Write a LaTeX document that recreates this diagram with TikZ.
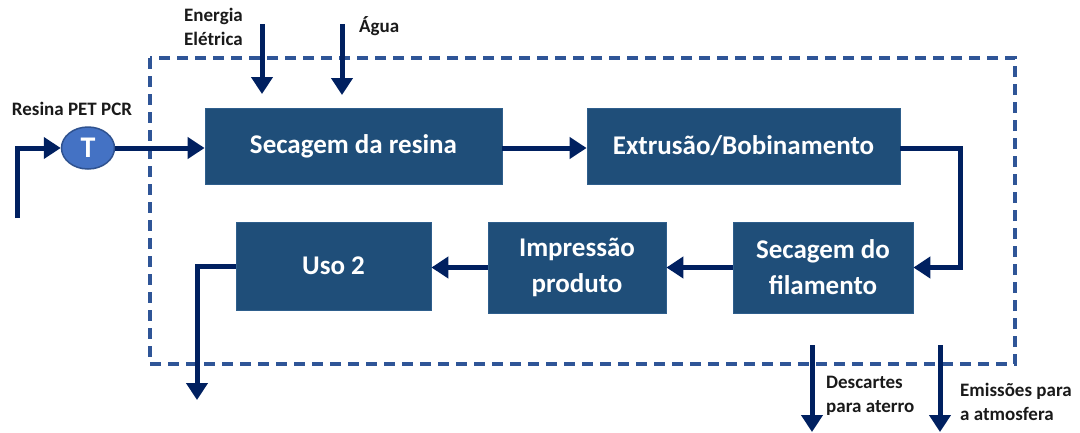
\documentclass[tikz,border=0pt]{standalone}
\usepackage{fontspec}
\setmainfont{Carlito}
\usetikzlibrary{arrows.meta,shapes.geometric}
\definecolor{boxblue}{HTML}{1F4E79}
\definecolor{boxedge}{HTML}{2E5E8C}
\definecolor{flow}{HTML}{002060}
\definecolor{bound}{HTML}{2F5597}
\definecolor{tankfill}{HTML}{4472C4}
\definecolor{tankedge}{HTML}{2F528F}
\definecolor{labeltext}{HTML}{1A1A1A}
\tikzset{
  procbox/.style={draw=boxedge, line width=0.8pt, fill=boxblue, text=white,
    font=\bfseries\fontsize{27}{36}\selectfont, align=center, inner sep=0pt},
  flowline/.style={draw=flow, line width=5pt,
    -{Triangle[length=17pt,width=21pt]}},
  lbl/.style={font=\bfseries\fontsize{19}{24}\selectfont, text=labeltext, inner sep=0pt, align=left},
}
\begin{document}
\begin{tikzpicture}[x=1pt,y=-1pt]
\useasboundingbox (0,0) rectangle (1080,432);

% system boundary
\draw[bound, line width=4pt, dash pattern=on 11pt off 7pt] (150,58) rectangle (1015,364);

% process steps
\node[procbox, minimum width=297pt, minimum height=76pt] (sec) at (353.5,146) {Secagem da resina};
\node[procbox, minimum width=313pt, minimum height=76pt] (ext) at (743.5,146) {Extrusão/Bobinamento};
\node[procbox, minimum width=180pt, minimum height=91pt] (fil) at (823,267.5) {Secagem do\\filamento};
\node[procbox, minimum width=178pt, minimum height=91pt] (imp) at (577,267.5) {Impressão\\produto};
\node[procbox, minimum width=195pt, minimum height=88pt] (uso) at (333.5,266) {Uso 2};

% resin tank
\node[ellipse, draw=tankedge, line width=1.5pt, fill=tankfill, minimum width=53pt, minimum height=42pt,
      inner sep=0pt, text=white, font=\bfseries\fontsize{30}{30}\selectfont] (tank) at (88,148) {T};
\node[lbl] (resina) at (72,109) {Resina PET PCR};
\coordinate (feed) at (17,218);

% inputs from above
\node[lbl, anchor=north west] (energia) at (184,8) {Energia\\Elétrica};
\node[lbl, anchor=west] (agua) at (359,26) {Água};
\coordinate (eTop) at (262,24);
\coordinate (eEnd) at (262,94);
\coordinate (aTop) at (342,24);
\coordinate (aEnd) at (342,95);

% outputs below
\coordinate (dTop) at (812,345);
\coordinate (dEnd) at (812,432);
\coordinate (mTop) at (940,345);
\coordinate (mEnd) at (940,432);
\coordinate (uEnd) at (197,400);
\node[lbl, anchor=north west] (desc) at (826,376) {Descartes\\para aterro};
\node[lbl, anchor=north west] (emis) at (960,383) {Emissões para\\a atmosfera};

% flows
\draw[flowline] (feed) |- (tank.west);
\draw[flowline] (tank.east) -- (sec.west |- tank.east);
\draw[flowline] (eTop) -- (eEnd);
\draw[flowline] (aTop) -- (aEnd);
\draw[flowline] (sec.east |- tank.east) -- (ext.west |- tank.east);
\draw[flowline] (ext.east |- tank.east) -- ++(60,0) |- (fil.east);
\draw[flowline] (fil.west) -- (imp.east);
\draw[flowline] (imp.west) -- (uso.east |- imp.west);
\draw[flowline] (uso.west) -| (uEnd);
\draw[flowline] (dTop) -- (dEnd);
\draw[flowline] (mTop) -- (mEnd);
\end{tikzpicture}
\end{document}
